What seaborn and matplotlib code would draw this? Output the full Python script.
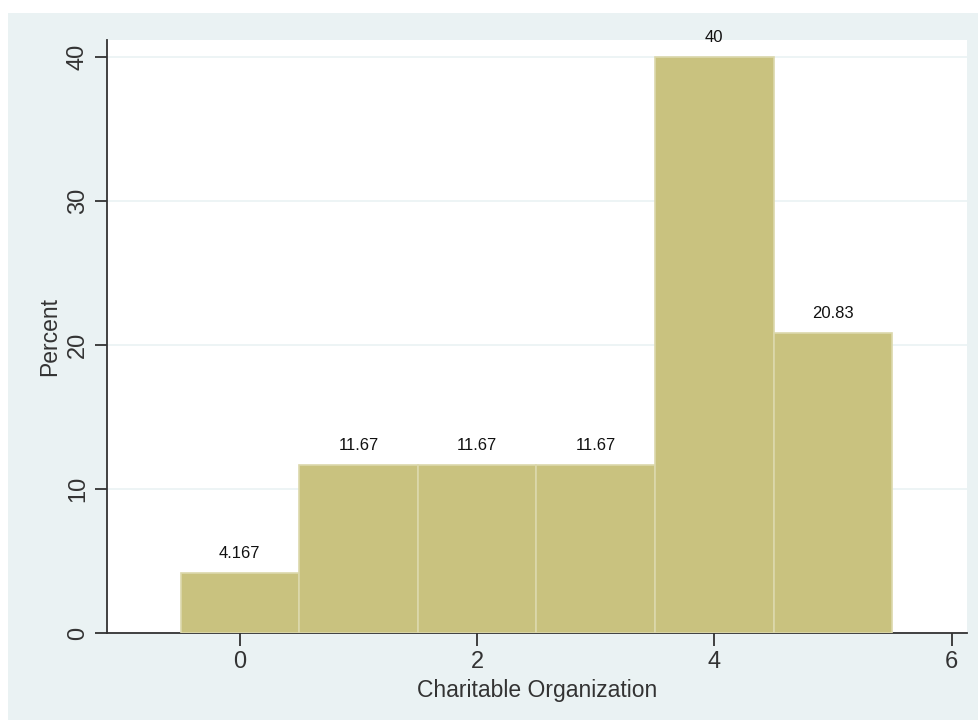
import matplotlib
matplotlib.use("Agg")
import matplotlib.pyplot as plt
import seaborn as sns
import pandas as pd
from matplotlib.patches import Rectangle

categories = [0, 1, 2, 3, 4, 5]
percents = [4.167, 11.67, 11.67, 11.67, 40, 20.83]
bar_labels = ["4.167", "11.67", "11.67", "11.67", "40", "20.83"]
x_ticks = [0, 2, 4, 6]
y_ticks = [0, 10, 20, 30, 40]

sns.set_theme(style="white")
plt.rcParams['font.family'] = ['Liberation Sans', 'DejaVu Sans']

df = pd.DataFrame({"value": categories, "pct": percents})

fig = plt.figure(figsize=(9.79, 7.2), dpi=100, facecolor="white")
bg = Rectangle((8/979, 0), 1 - 8/979, 1 - 13/720, transform=fig.transFigure,
               facecolor="#EAF2F3", edgecolor="none", zorder=-10)
fig.patches.append(bg)

ax = fig.add_axes([107/979, 1 - 633/720, (967-107)/979, (633-40)/720])
ax.set_facecolor("white")

sns.histplot(data=df, x="value", weights="pct", discrete=True, stat="count",
             color="#C9C27F", edgecolor="#DCD8AC", linewidth=1.2, alpha=1,
             ax=ax, zorder=3)

ax.set_xlim(-1.12, 6.13)
ax.set_ylim(0, 41.2)
ax.set_xticks(x_ticks)
ax.set_yticks(y_ticks)
ax.set_xticklabels([str(t) for t in x_ticks], fontsize=17, color="#333333")
ax.set_yticklabels([str(t) for t in y_ticks], fontsize=17, color="#333333",
                   rotation=90, va="center")
ax.tick_params(axis="both", direction="out", length=9, width=1.2, color="#222222",
               bottom=True, left=True, pad=4)
ax.yaxis.grid(True, color="#EAF2F3", linewidth=1.2, zorder=0)
ax.set_axisbelow(True)

for s in ["top", "right"]:
    ax.spines[s].set_visible(False)
for s in ["left", "bottom"]:
    ax.spines[s].set_color("#333333")
    ax.spines[s].set_linewidth(1.3)

ax.set_xlabel("Charitable Organization", fontsize=16.5, color="#333333", labelpad=4)
ax.set_ylabel("Percent", fontsize=16.5, color="#333333", labelpad=4)

for c, p, lab in zip(categories, percents, bar_labels):
    ax.annotate(lab, xy=(c, p), xytext=(0, 9), textcoords="offset points",
                ha="center", va="bottom", fontsize=12, color="#111111")

fig.savefig("out.png", dpi=100, facecolor=fig.get_facecolor())
